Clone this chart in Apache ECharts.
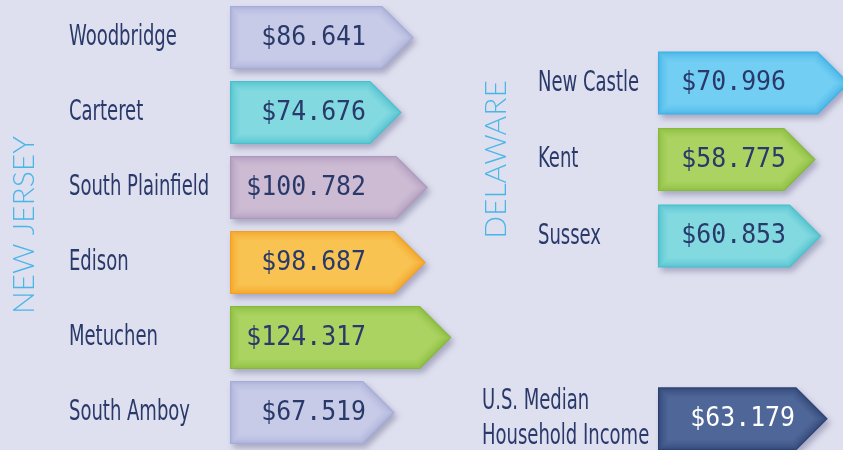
<!DOCTYPE html>
<html>
<head>
<meta charset="utf-8">
<script src="https://cdn.jsdelivr.net/npm/echarts@6/dist/echarts.min.js"></script>
<style>
  html, body { margin: 0; padding: 0; background: #dfe0ef; }
  #chart { width: 843px; height: 450px; }
</style>
</head>
<body>
<div id="chart"></div>
<script>
// median household income, thousands of dollars
var njNames = ['Woodbridge', 'Carteret', 'South Plainfield', 'Edison', 'Metuchen', 'South Amboy']
var njIncome = [86.641, 74.676, 100.782, 98.687, 124.317, 67.519]
var deNames = ['New Castle', 'Kent', 'Sussex']
var deIncome = [70.996, 58.775, 60.853]
var usNames = ['U.S. Median\nHousehold Income']
var usIncome = [63.179]

// [edge, center] colours of each arrow
var njColors = [
  ['#a6acd6', '#c8cbe8'],
  ['#48bfcb', '#82d9e0'],
  ['#ad97bb', '#cdbbd3'],
  ['#f1a023', '#f9c352'],
  ['#85b938', '#abd362'],
  ['#a6acd6', '#c8cbe8']
]
var deColors = [
  ['#3cb0e6', '#72cef2'],
  ['#85b938', '#abd362'],
  ['#48bfcb', '#82d9e0']
]
var usColors = [['#2c406f', '#4e6698']]

var navy = '#28396a'
var barH = 63

function arrowPoints(x0, x1, yc, h) {
  var half = h / 2
  return [[x0, yc - half], [x1, yc - half], [x1 + half, yc], [x1, yc + half], [x0, yc + half]]
}

function mix(a, b, t) {
  var pa = [1, 3, 5].map(function (i) { return parseInt(a.substr(i, 2), 16) })
  var pb = [1, 3, 5].map(function (i) { return parseInt(b.substr(i, 2), 16) })
  var r = pa.map(function (c, i) { return Math.round(c + (pb[i] - c) * t) })
  return 'rgb(' + r.join(',') + ')'
}

function makeRender(names, colors, axisMin, nameLeft, valueRight, valueColor) {
  return function (params, api) {
    var idx = api.value(1)
    var v = api.value(0)
    var start = api.coord([axisMin, idx])
    var end = api.coord([v, idx])
    var yc = end[1]
    var c = colors[idx]
    var children = []
    var steps = 9
    for (var k = 0; k <= steps; k++) {
      var ins = k * 1.1
      var t = Math.sqrt(k / steps)
      var el = {
        type: 'polygon',
        shape: { points: arrowPoints(start[0] + ins, end[0] - ins * 0.41, yc, barH - ins * 2) },
        style: { fill: mix(c[0], c[1], t) }
      }
      if (k === 0) {
        el.style.shadowBlur = 6
        el.style.shadowOffsetX = 3
        el.style.shadowOffsetY = 4
        el.style.shadowColor = 'rgba(60,60,110,0.35)'
      }
      children.push(el)
    }
    children.push({
      type: 'text',
      x: start[0] + valueRight,
      y: yc,
      scaleX: 0.92,
      style: {
        text: '$' + v.toFixed(3),
        fill: valueColor,
        font: '27px "DejaVu Sans Mono", monospace',
        align: 'right',
        verticalAlign: 'middle'
      }
    })
    children.push({
      type: 'text',
      x: nameLeft,
      y: yc,
      scaleX: 0.69,
      style: {
        text: names[idx],
        fill: navy,
        font: '29px "DejaVu Sans Condensed", sans-serif',
        lineHeight: 35,
        align: 'left',
        verticalAlign: 'middle'
      }
    })
    return { type: 'group', children: children }
  }
}

function pairs(values) {
  return values.map(function (v, i) { return [v, i] })
}

var njMin = -65.6
var deMin = 12.9

var chart = echarts.init(document.getElementById('chart'))

var stateName = {
  nameLocation: 'middle',
  nameRotate: 90,
  nameTextStyle: {
    color: '#4ab6e8',
    fontSize: 30,
    fontWeight: 300,
    fontFamily: 'Lato, "Open Sans", sans-serif'
  }
}

var option = {
  backgroundColor: '#dfe0ef',
  animation: false,
  grid: [
    { left: 230, top: 0, width: 300, height: 461 },
    { left: 658, top: 44.75, width: 165, height: 229.5 },
    { left: 658, top: 387.5, width: 165, height: 63 }
  ],
  xAxis: [
    { gridIndex: 0, type: 'value', min: njMin, max: njMin + 300, show: false },
    { gridIndex: 1, type: 'value', min: deMin, max: deMin + 165 / 2.75, show: false },
    { gridIndex: 2, type: 'value', min: deMin, max: deMin + 165 / 2.75, show: false }
  ],
  yAxis: [
    Object.assign({
      gridIndex: 0, type: 'category', inverse: true, data: njNames,
      name: 'NEW JERSEY', nameGap: 191,
      axisLine: { show: false }, axisTick: { show: false }, axisLabel: { show: false }, splitLine: { show: false }
    }, stateName),
    Object.assign({
      gridIndex: 1, type: 'category', inverse: true, data: deNames,
      name: 'DELAWARE', nameGap: 147,
      axisLine: { show: false }, axisTick: { show: false }, axisLabel: { show: false }, splitLine: { show: false }
    }, stateName),
    {
      gridIndex: 2, type: 'category', data: usNames,
      axisLine: { show: false }, axisTick: { show: false }, axisLabel: { show: false }, splitLine: { show: false }
    }
  ],
  series: [
    {
      type: 'custom', xAxisIndex: 0, yAxisIndex: 0, clip: false,
      renderItem: makeRender(njNames, njColors, njMin, 69, 136, navy),
      encode: { x: 0, y: 1 },
      data: pairs(njIncome)
    },
    {
      type: 'custom', xAxisIndex: 1, yAxisIndex: 1, clip: false,
      renderItem: makeRender(deNames, deColors, deMin, 538, 128, navy),
      encode: { x: 0, y: 1 },
      data: pairs(deIncome)
    },
    {
      type: 'custom', xAxisIndex: 2, yAxisIndex: 2, clip: false,
      renderItem: makeRender(usNames, usColors, deMin, 482, 137, '#ffffff'),
      encode: { x: 0, y: 1 },
      data: pairs(usIncome)
    }
  ]
}

chart.setOption(option)
</script>
</body>
</html>
